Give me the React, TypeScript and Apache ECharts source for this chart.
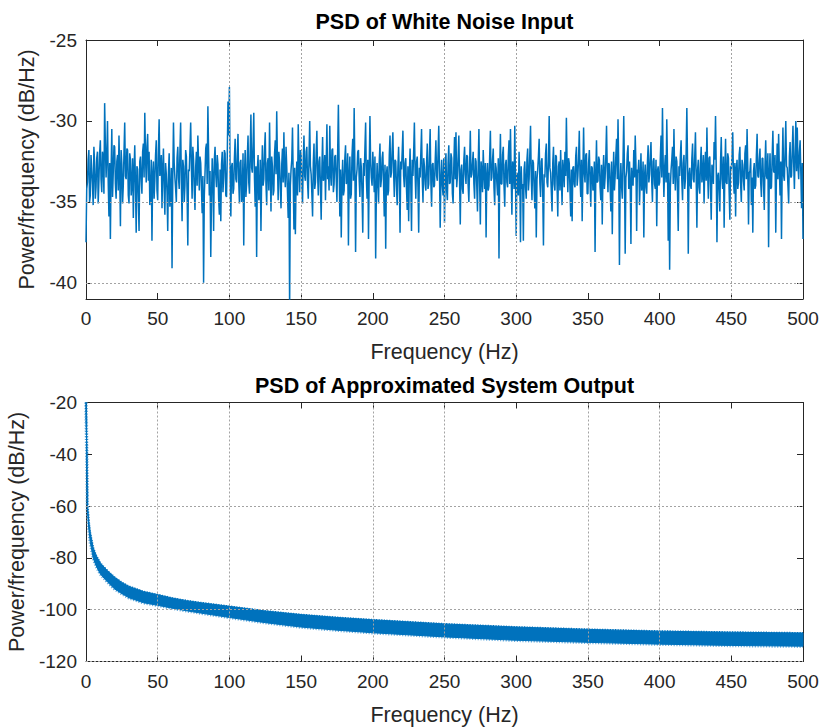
import React, { useEffect, useRef } from "react";
import * as echarts from "echarts";

// ---- Data ----
// Top: PSD of white-noise input, one value every 0.5 Hz from 0 to 500 Hz (dB/Hz)
const NOISE_START_HZ = 0;
const NOISE_STEP_HZ = 0.5;
const NOISE_PSD = [
  -37.5,-34.2,-33.8,-32.4,-31.8,-35.0,-34.6,-32.1,-33.0,-33.9,-35.2,-31.6,-32.6,-34.8,-34.1,-32.3,-31.9,-35.1,-33.7,-32.0,
  -31.2,-33.6,-34.4,-31.9,-32.3,-34.5,-28.9,-31.4,-33.5,-32.2,-30.0,-33.8,-35.9,-32.6,-37.3,-33.1,-30.5,-34.7,-33.2,-31.5,
  -31.6,-33.9,-34.8,-32.5,-32.1,-34.3,-30.9,-33.2,-36.5,-31.8,-32.7,-35.1,-34.0,-31.9,-30.1,-33.4,-33.6,-31.7,-31.8,-34.6,
  -35.1,-32.0,-32.4,-34.6,-33.9,-32.3,-36.0,-33.1,-31.5,-34.0,-36.9,-32.8,-33.0,-34.9,-36.8,-32.5,-32.2,-33.6,-34.5,-31.9,
  -31.4,-33.5,-29.5,-32.2,-33.8,-31.6,-30.8,-33.7,-31.9,-35.2,-34.6,-32.4,-37.4,-33.3,-32.5,-34.8,-33.7,-32.1,-31.2,-34.3,
  -34.9,-31.8,-29.9,-33.4,-33.0,-32.1,-35.4,-33.0,-31.7,-34.1,-35.8,-32.6,-33.3,-34.4,-36.8,-33.2,-32.0,-35.3,-34.6,-32.9,
  -39.1,-33.7,-30.1,-32.6,-33.5,-34.2,-35.0,-32.3,-31.6,-33.5,-34.2,-31.9,-30.1,-33.8,-36.2,-32.4,-32.8,-35.0,-34.0,-31.8,
  -32.2,-34.5,-37.7,-33.0,-33.1,-31.7,-30.1,-32.9,-34.8,-31.6,-32.4,-34.3,-35.5,-32.8,-31.9,-34.0,-30.9,-32.5,-34.3,-32.2,
  -32.6,-34.1,-35.7,-33.4,-40.0,-34.6,-33.2,-31.7,-31.4,-33.9,-29.1,-32.0,-34.6,-33.1,-38.4,-34.9,-32.3,-33.5,-36.8,-32.4,
  -31.6,-33.3,-34.1,-32.1,-32.7,-34.8,-35.8,-33.0,-36.2,-32.7,-31.9,-34.4,-33.5,-31.8,-32.0,-34.6,-34.7,-32.2,-28.8,-30.9,
  -27.9,-33.2,-35.9,-32.8,-32.6,-34.5,-34.2,-32.3,-31.1,-33.6,-33.8,-32.1,-30.8,-33.7,-35.1,-32.6,-32.4,-35.0,-34.6,-32.0,
  -37.7,-33.4,-31.8,-34.7,-33.9,-32.2,-30.9,-33.8,-34.5,-31.9,-29.6,-32.9,-33.2,-31.5,-29.5,-33.6,-35.3,-32.8,-38.4,-33.0,
  -32.1,-34.9,-34.7,-32.4,-36.8,-33.5,-31.5,-34.0,-33.6,-31.8,-30.7,-33.9,-35.2,-32.6,-32.3,-34.3,-30.1,-33.0,-35.6,-32.2,
  -32.8,-34.6,-34.3,-32.0,-31.2,-33.3,-29.4,-32.5,-34.9,-31.9,-32.6,-34.2,-35.4,-32.7,-31.7,-33.8,-30.7,-33.2,-34.1,-31.6,
  -32.9,-34.4,-36.0,-33.2,-41.6,-34.0,-33.0,-32.4,-30.4,-33.5,-36.7,-32.9,-37.0,-33.8,-32.5,-34.6,-30.2,-32.7,-34.4,-31.8,
  -32.1,-33.9,-35.1,-32.5,-30.9,-33.4,-33.7,-31.9,-31.6,-33.8,-34.8,-32.3,-30.0,-32.8,-33.3,-34.5,-35.9,-32.6,-31.4,-34.2,
  -33.8,-32.0,-30.6,-33.3,-34.6,-32.5,-32.2,-34.1,-36.1,-32.9,-31.0,-33.7,-33.5,-32.1,-34.9,-32.7,-30.2,-33.6,-32.8,-34.3,
  -30.3,-33.2,-34.0,-31.8,-31.7,-34.4,-33.9,-32.2,-32.1,-33.6,-35.0,-31.9,-29.0,-32.5,-35.9,-33.0,-37.2,-33.8,-32.4,-34.6,
  -34.3,-32.3,-31.5,-33.9,-33.6,-32.0,-37.7,-33.4,-32.2,-34.8,-34.5,-32.1,-31.1,-33.7,-29.2,-32.8,-38.1,-33.5,-33.0,-31.9,
  -31.8,-33.6,-34.7,-32.3,-32.9,-34.5,-36.9,-32.6,-33.4,-31.7,-30.1,-33.5,-34.8,-32.4,-37.3,-33.1,-29.7,-32.6,-33.5,-34.0,
  -31.9,-33.0,-34.4,-32.2,-38.5,-34.3,-32.6,-33.8,-35.1,-32.5,-31.4,-34.1,-33.6,-32.3,-31.9,-33.9,-35.9,-32.7,-37.9,-33.3,
  -32.8,-34.6,-34.3,-32.1,-30.9,-33.5,-33.2,-31.8,-30.7,-33.1,-34.7,-32.4,-32.5,-34.0,-35.2,-32.9,-31.6,-33.6,-36.9,-32.5,
  -33.0,-31.9,-30.6,-33.4,-34.1,-32.6,-32.3,-34.2,-35.5,-32.8,-36.2,-33.3,-31.7,-34.0,-36.8,-32.4,-33.4,-31.9,-30.1,-33.2,
  -34.8,-32.5,-32.2,-34.1,-36.9,-32.9,-33.5,-32.0,-30.5,-33.6,-35.0,-32.3,-32.8,-33.9,-34.3,-32.6,-31.4,-34.2,-33.9,-32.1,
  -30.5,-33.8,-35.3,-32.7,-32.6,-34.1,-34.0,-32.5,-31.2,-33.4,-33.7,-32.0,-30.3,-33.2,-36.6,-33.5,-32.4,-34.0,-34.6,-32.3,
  -36.3,-33.1,-32.0,-34.3,-34.9,-32.6,-31.5,-33.9,-33.8,-32.0,-32.3,-34.5,-35.1,-32.7,-31.0,-33.6,-30.7,-34.1,-33.4,-32.2,
  -30.9,-33.7,-36.4,-33.0,-32.7,-34.2,-34.5,-32.4,-31.6,-33.3,-33.9,-32.1,-32.2,-34.0,-35.0,-32.8,-30.6,-33.5,-33.3,-32.6,
  -31.9,-33.9,-34.8,-32.3,-32.5,-34.0,-35.6,-32.7,-30.5,-33.8,-36.4,-32.5,-33.1,-34.4,-31.8,-33.2,-34.2,-32.6,-37.2,-33.4,
  -32.6,-34.3,-34.0,-32.2,-30.6,-33.7,-33.5,-32.4,-31.7,-34.1,-35.2,-32.6,-32.9,-33.8,-34.6,-32.3,-38.5,-33.1,-30.8,-33.9,
  -33.9,-32.1,-31.6,-34.0,-35.3,-32.7,-32.4,-33.8,-34.1,-32.2,-31.2,-33.9,-30.5,-33.4,-35.8,-32.5,-32.8,-34.2,-30.3,-33.6,
  -37.1,-33.2,-33.4,-34.6,-31.9,-33.5,-37.5,-32.8,-34.2,-33.9,-37.4,-33.0,-32.5,-34.1,-34.8,-32.4,-31.7,-34.3,-33.6,-32.0,
  -30.3,-33.5,-34.9,-32.4,-32.6,-34.2,-35.4,-33.1,-37.2,-33.6,-33.0,-32.2,-31.1,-33.8,-34.7,-32.5,-32.3,-34.4,-37.7,-33.3,
  -33.5,-32.0,-31.4,-33.8,-34.1,-32.5,-29.7,-32.9,-33.2,-34.4,-35.6,-32.6,-31.6,-33.9,-34.3,-32.1,-32.2,-34.0,-35.9,-32.8,
  -32.5,-34.3,-31.8,-33.6,-35.2,-32.4,-33.0,-34.1,-31.9,-33.4,-29.8,-32.7,-34.4,-32.3,-32.6,-34.2,-35.9,-33.0,-36.2,-32.9,
  -32.8,-33.9,-34.1,-32.2,-31.6,-34.0,-33.4,-32.3,-30.6,-33.5,-34.7,-32.4,-36.2,-33.3,-30.4,-33.2,-33.8,-32.1,-32.0,-34.5,
  -34.5,-32.6,-31.8,-33.7,-35.3,-32.8,-32.9,-34.3,-34.0,-32.5,-38.1,-33.4,-31.2,-33.8,-33.7,-32.2,-32.4,-34.1,-34.9,-32.7,
  -36.4,-33.3,-32.1,-34.2,-33.5,-32.2,-30.3,-33.1,-34.4,-32.6,-32.7,-34.0,-35.6,-32.5,-37.0,-33.6,-31.9,-34.3,-33.4,-32.1,
  -31.1,-33.6,-29.9,-32.8,-38.9,-33.9,-32.6,-34.1,-34.8,-32.4,-29.7,-33.2,-38.2,-33.5,-33.1,-32.0,-31.5,-34.2,-32.5,-33.8,
  -37.6,-32.9,-33.6,-34.0,-31.8,-33.5,-30.9,-32.7,-36.8,-33.0,-33.2,-32.4,-35.2,-33.6,-32.0,-34.3,-33.9,-32.5,-37.2,-33.4,
  -32.7,-34.1,-34.5,-32.6,-31.5,-33.8,-33.3,-32.1,-31.3,-33.7,-35.0,-32.5,-32.3,-33.9,-34.2,-32.4,-36.5,-33.1,-32.8,-34.0,
  -33.8,-32.3,-30.9,-33.5,-29.2,-32.6,-34.7,-32.9,-32.1,-33.8,-29.9,-32.7,-37.4,-33.2,-39.2,-34.1,-33.0,-32.4,-31.6,-33.9,
  -30.5,-33.2,-34.3,-32.2,-32.5,-34.4,-36.8,-32.8,-33.4,-32.1,-31.2,-33.7,-34.9,-32.6,-32.1,-34.2,-33.6,-32.0,-29.2,-32.7,
  -38.2,-33.3,-32.9,-34.0,-34.2,-32.3,-31.4,-33.6,-33.8,-32.2,-30.7,-33.4,-36.6,-33.0,-32.4,-34.1,-34.5,-32.6,-31.6,-33.8,
  -33.3,-32.1,-35.1,-32.9,-31.9,-33.7,-30.4,-33.2,-34.8,-32.3,-32.2,-34.0,-36.1,-32.7,-33.0,-33.9,-31.3,-32.4,-29.7,-33.0,
  -37.5,-33.4,-33.2,-34.3,-35.6,-32.5,-31.0,-33.6,-34.2,-32.2,-36.6,-33.1,-31.1,-33.8,-33.9,-32.0,-32.3,-34.4,-36.1,-32.8,
  -33.0,-32.2,-30.7,-33.5,-34.5,-32.6,-35.9,-33.0,-32.4,-34.2,-33.8,-32.1,-31.6,-33.9,-35.0,-32.4,-32.7,-33.7,-34.3,-32.0,
  -31.5,-33.6,-30.5,-32.9,-36.4,-33.2,-33.1,-32.3,-35.2,-33.5,-36.9,-33.1,-32.6,-34.2,-34.0,-32.1,-30.8,-33.4,-33.5,-32.4,
  -31.7,-33.8,-34.7,-32.3,-32.3,-34.0,-35.5,-32.7,-31.2,-33.4,-33.6,-32.0,-37.8,-33.3,-32.0,-34.2,-34.1,-32.2,-30.6,-33.1,
  -33.2,-32.1,-36.9,-33.3,-31.4,-33.6,-30.8,-32.9,-34.6,-32.5,-37.3,-33.0,-30.4,-33.4,-33.7,-31.9,-30.0,-32.8,-32.9,-34.0,
  -35.1,-32.2,-31.3,-33.5,-33.4,-31.8,-30.3,-32.6,-34.2,-32.0,-30.0,-33.1,-30.4,-32.7,-33.6,-31.9,-31.2,-33.3,-35.4,-32.6,
  -37.3,
];

// Bottom: PSD of approximated system output, upper / lower edge of the dense band
const BAND_FREQ = [0, 0.5, 1, 2, 3, 5, 7, 10, 15, 20, 25, 30, 40, 50, 60, 70, 80, 100, 125, 150, 175, 200, 250, 300, 350, 400, 450, 500];
const BAND_UPPER = [-20, -36, -59.5, -66.5, -70.5, -76, -79, -82, -85, -87.5, -89.5, -91, -93, -94.2, -95.5, -96.5, -97.3, -98.7, -100.5, -101.9, -103, -103.9, -105.5, -106.7, -107.6, -108.3, -108.7, -109];
const BAND_LOWER = [-20, -38, -61.5, -69, -74, -80, -83, -86.2, -89.3, -92, -93.8, -95.4, -97.3, -98.3, -99.4, -100.4, -101.3, -103, -105, -106.7, -107.9, -108.9, -110.5, -111.8, -112.6, -113.3, -113.8, -114.1];

// Axes / ticks
const TOP_Y_TICKS = [-40, -35, -30, -25];
const TOP_GRID_X = [100, 150, 250, 300, 450];
const TOP_GRID_Y = [-35, -40];
const BOT_GRID_X = [50, 100, 200, 250, 350, 400];
const BOT_GRID_Y = [-60, -100, -120];

const FONT = "'Liberation Sans', Arial, Helvetica, sans-serif";
const AXIS_COLOR = "#262626";
const LINE_COLOR = "#0072BD";
const FRINGE_COLOR = "#6aaede";

export default function App() {
  const ref = useRef<HTMLDivElement>(null);

  useEffect(() => {
    if (!ref.current) return;
    const chart = echarts.init(ref.current, undefined, { renderer: "svg" });

    const noiseData = NOISE_PSD.map((v, i) => [NOISE_START_HZ + i * NOISE_STEP_HZ, v]);
    const bandData = BAND_FREQ.map((f, i) => [f, BAND_UPPER[i], BAND_LOWER[i]]);

    const tickLabel = { color: AXIS_COLOR, fontSize: 19, fontFamily: FONT };
    const nameStyle = { color: AXIS_COLOR, fontSize: 21.5, fontFamily: FONT };
    const axisLine = { show: true, onZero: false, lineStyle: { color: AXIS_COLOR, width: 1 } };
    const axisTick = { show: true, inside: true, length: 6, lineStyle: { color: AXIS_COLOR, width: 1 } };

    const xAxis = (gridIndex: number, position: string, main: boolean) => ({
      type: "value",
      gridIndex,
      position,
      min: 0,
      max: 500,
      interval: 50,
      axisLine,
      axisTick,
      axisLabel: main ? { ...tickLabel, margin: 10 } : { show: false },
      splitLine: { show: false },
      name: main ? "Frequency (Hz)" : "",
      nameLocation: "middle",
      nameGap: 42,
      nameTextStyle: nameStyle,
    });

    const yAxis = (
      gridIndex: number,
      position: string,
      main: boolean,
      min: number,
      max: number,
      interval: number,
      custom?: number[]
    ) => ({
      type: "value",
      gridIndex,
      position,
      min,
      max,
      interval,
      axisLine,
      axisTick: custom ? { ...axisTick, customValues: custom } : axisTick,
      axisLabel: main
        ? { ...tickLabel, margin: 9, ...(custom ? { customValues: custom } : {}) }
        : { show: false },
      splitLine: { show: false },
      name: main ? "Power/frequency (dB/Hz)" : "",
      nameLocation: "middle",
      nameGap: 48,
      nameRotate: 90,
      nameTextStyle: nameStyle,
    });

    const gridMark = (xs: number[], ys: number[]) => ({
      silent: true,
      symbol: ["none", "none"],
      label: { show: false },
      lineStyle: { type: [2, 2], color: "#a3a3a3", width: 1 },
      emphasis: { disabled: true },
      data: [...xs.map((v) => ({ xAxis: v })), ...ys.map((v) => ({ yAxis: v }))],
    });

    chart.setOption({
      animation: false,
      backgroundColor: "#ffffff",
      title: [
        {
          text: "PSD of White Noise Input",
          left: 444.5,
          top: 11,
          textAlign: "center",
          padding: 0,
          textStyle: { fontSize: 21.5, fontWeight: "bold", color: "#000", fontFamily: FONT },
        },
        {
          text: "PSD of Approximated System Output",
          left: 444.5,
          top: 375,
          textAlign: "center",
          padding: 0,
          textStyle: { fontSize: 21.5, fontWeight: "bold", color: "#000", fontFamily: FONT },
        },
      ],
      grid: [
        { left: 86, top: 40, width: 717, height: 259, outerBoundsMode: "none" },
        { left: 86, top: 402.5, width: 717, height: 259, outerBoundsMode: "none" },
      ],
      xAxis: [xAxis(0, "bottom", true), xAxis(0, "top", false), xAxis(1, "bottom", true), xAxis(1, "top", false)],
      yAxis: [
        yAxis(0, "left", true, -41, -25, 5, TOP_Y_TICKS),
        yAxis(0, "right", false, -41, -25, 5, TOP_Y_TICKS),
        yAxis(1, "left", true, -120, -20, 20),
        yAxis(1, "right", false, -120, -20, 20),
      ],
      series: [
        {
          type: "line",
          xAxisIndex: 0,
          yAxisIndex: 0,
          data: [],
          silent: true,
          z: 1,
          markLine: gridMark(TOP_GRID_X, TOP_GRID_Y),
        },
        {
          type: "line",
          xAxisIndex: 0,
          yAxisIndex: 0,
          data: noiseData,
          symbol: "none",
          showSymbol: false,
          clip: true,
          z: 2,
          lineStyle: { color: LINE_COLOR, width: 1.5 },
        },
        {
          type: "line",
          xAxisIndex: 2,
          yAxisIndex: 2,
          data: [],
          silent: true,
          z: 1,
          markLine: gridMark(BOT_GRID_X, BOT_GRID_Y),
        },
        {
          type: "custom",
          xAxisIndex: 2,
          yAxisIndex: 2,
          data: bandData,
          encode: { x: 0, y: [1, 2] },
          z: 2,
          silent: true,
          renderItem: (params: any, api: any) => {
            if (params.dataIndex !== 0) return null;
            const up = BAND_FREQ.map((f, i) => api.coord([f, BAND_UPPER[i]]));
            const lo = BAND_FREQ.map((f, i) => api.coord([f, BAND_LOWER[i]]));
            return {
              type: "group",
              children: [
                {
                  type: "polyline",
                  shape: { points: lo },
                  style: { fill: null, stroke: FRINGE_COLOR, lineWidth: 3.5, lineDash: [1.2, 1.6] },
                },
                {
                  type: "polygon",
                  shape: { points: [...up, ...lo.slice().reverse()] },
                  style: { fill: LINE_COLOR, stroke: LINE_COLOR, lineWidth: 1 },
                },
                {
                  type: "polyline",
                  shape: { points: up },
                  style: { fill: null, stroke: LINE_COLOR, lineWidth: 2, lineDash: [1.2, 1.4] },
                },
              ],
            };
          },
        },
      ],
    });

    return () => chart.dispose();
  }, []);

  return (
    <div
      ref={ref}
      style={{ position: "absolute", left: 0, top: 0, width: 821, height: 727 }}
    />
  );
}
